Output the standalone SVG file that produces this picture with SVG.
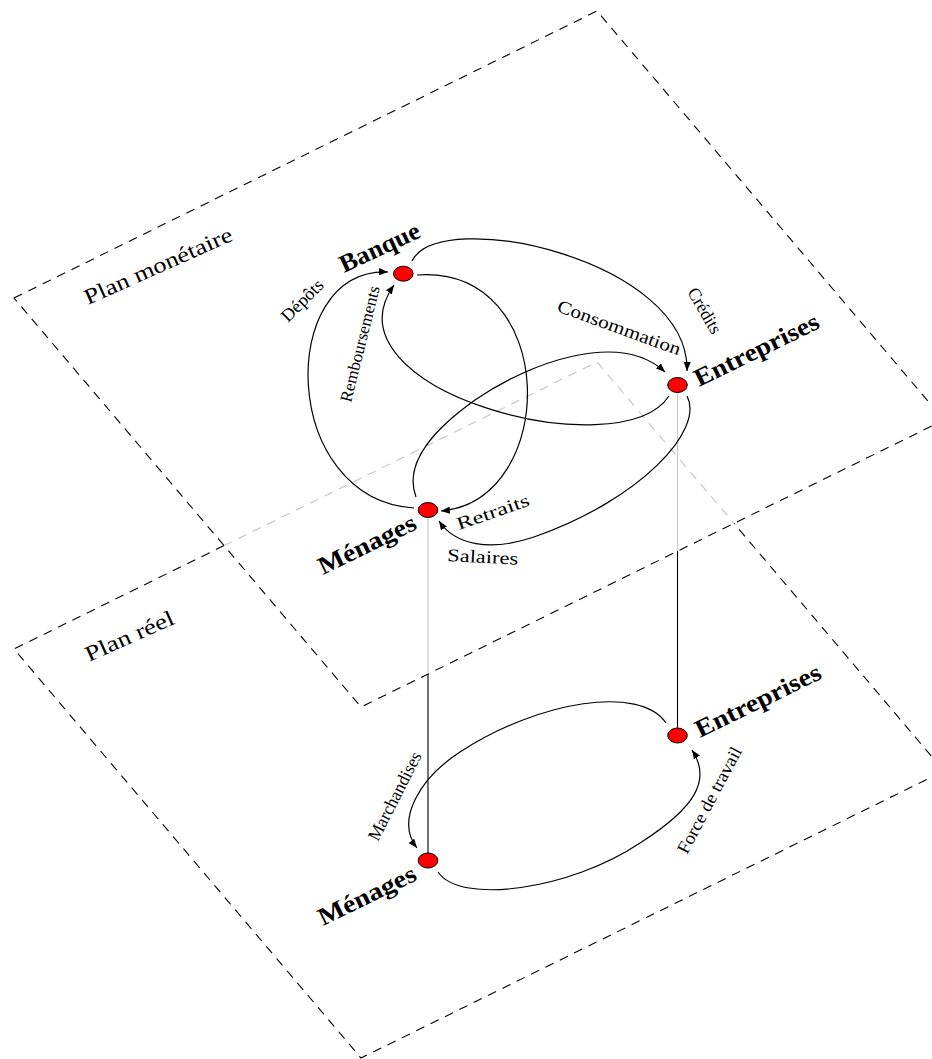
<svg xmlns="http://www.w3.org/2000/svg" width="932" height="1059" viewBox="0 0 932 1059">
<style>
.plane{fill:none;stroke:#000;stroke-width:1.1;stroke-dasharray:9 7}
.hidden{fill:none;stroke:#c4c4c4;stroke-width:1.1;stroke-dasharray:9 7}
.edge{fill:none;stroke:#000;stroke-width:1.2}
.vgray{stroke:#c8c8c8;stroke-width:1.1}
.vblack{stroke:#000;stroke-width:1.1}
.node{fill:#ff0000;stroke:#000;stroke-width:1}
.nl{font-family:"Liberation Serif",serif;font-weight:bold;font-size:25px;fill:#000}
.pl{font-family:"Liberation Serif",serif;font-size:22px;fill:#000}
.el{font-family:"Liberation Serif",serif;font-size:18px;fill:#000}
</style>
<defs>
<marker id="arr" viewBox="0 0 10 8" markerWidth="9" markerHeight="7.2" refX="10" refY="4" orient="auto" markerUnits="userSpaceOnUse">
<path d="M0,0 L10,4 L0,8 Z" fill="#000"/>
</marker>
</defs>
<g id="planes">
<path class="plane" d="M14,298 L597,11 L944,420 L361,707 Z"/>
<path class="plane" d="M224,545.6 L14,649 L361,1058 L944,771 L734,523.4"/>
<path class="hidden" d="M224,545.6 L597,362 L734,523.4"/>
<text class="pl" transform="translate(88,305) rotate(-24)" textLength="160" lengthAdjust="spacingAndGlyphs">Plan monétaire</text>
<text class="pl" transform="translate(89,662) rotate(-24)" textLength="95" lengthAdjust="spacingAndGlyphs">Plan réel</text>
</g>
<g id="connectors">
<line class="vgray" x1="428" y1="510" x2="428" y2="674"/>
<line class="vblack" x1="428" y1="674" x2="428" y2="860"/>
<line class="vgray" x1="677.5" y1="385" x2="677.5" y2="551"/>
<line class="vblack" x1="677.5" y1="551" x2="677.5" y2="735"/>
<path class="edge" marker-end="url(#arr)" d="M412,261 C440,205 690,260 687,371"/>
<path class="edge" marker-end="url(#arr)" d="M414,508 C280,500 275,268 388,272"/>
<path class="edge" marker-end="url(#arr)" d="M669,396 C620,470 320,390 394,285"/>
<path class="edge" marker-end="url(#arr)" d="M417,275 C560,265 560,500 441,511"/>
<path class="edge" marker-end="url(#arr)" d="M416,497 C402,460 440,425 475,400 C530,362 620,330 665,372"/>
<path class="edge" marker-end="url(#arr)" d="M687,396 C705,430 640,500 534,537 C490,552 455,545 439,521"/>
<path class="edge" marker-end="url(#arr)" d="M666,723 C640,685 540,700 460,752 C420,778 395,820 417,848"/>
<path class="edge" marker-end="url(#arr)" d="M438,872 C460,905 570,890 640,843 C695,808 712,780 692,750"/>
<text class="el" transform="translate(288,323) rotate(-45)" textLength="52" lengthAdjust="spacingAndGlyphs">Dépôts</text>
<text class="el" style="font-size:17px" transform="translate(351,403) rotate(-76)" textLength="119" lengthAdjust="spacingAndGlyphs">Remboursements</text>
<text class="el" transform="translate(687,292) rotate(60)" textLength="50" lengthAdjust="spacingAndGlyphs">Crédits</text>
<text class="el" transform="translate(556,311) rotate(20)" textLength="130" lengthAdjust="spacingAndGlyphs">Consommation</text>
<text class="el" transform="translate(459,530) rotate(-19)" textLength="76" lengthAdjust="spacingAndGlyphs">Retraits</text>
<text class="el" transform="translate(447,561) rotate(3)" textLength="71" lengthAdjust="spacingAndGlyphs">Salaires</text>
<text class="el" transform="translate(378,842) rotate(-63)" textLength="97" lengthAdjust="spacingAndGlyphs">Marchandises</text>
<text class="el" transform="translate(687,855) rotate(-62)" textLength="118" lengthAdjust="spacingAndGlyphs">Force de travail</text>
</g>
<g id="banque">
<ellipse class="node" cx="403.3" cy="273.7" rx="9.8" ry="7.5"/>
<text class="nl" transform="translate(344,273) rotate(-25)" textLength="86" lengthAdjust="spacingAndGlyphs">Banque</text>
</g>
<g id="entreprises-monetaire">
<ellipse class="node" cx="677.5" cy="385" rx="9.8" ry="7.5"/>
<text class="nl" transform="translate(699,387) rotate(-26)" textLength="136" lengthAdjust="spacingAndGlyphs">Entreprises</text>
</g>
<g id="menages-monetaire">
<ellipse class="node" cx="428" cy="510" rx="9.8" ry="7.5"/>
<text class="nl" transform="translate(323,575) rotate(-26)" textLength="106" lengthAdjust="spacingAndGlyphs">Ménages</text>
</g>
<g id="entreprises-reel">
<ellipse class="node" cx="677.5" cy="735.5" rx="9.8" ry="7.5"/>
<text class="nl" transform="translate(700,738) rotate(-26)" textLength="137" lengthAdjust="spacingAndGlyphs">Entreprises</text>
</g>
<g id="menages-reel">
<ellipse class="node" cx="428" cy="860.5" rx="9.8" ry="7.5"/>
<text class="nl" transform="translate(323,926) rotate(-26)" textLength="106" lengthAdjust="spacingAndGlyphs">Ménages</text>
</g>
</svg>
